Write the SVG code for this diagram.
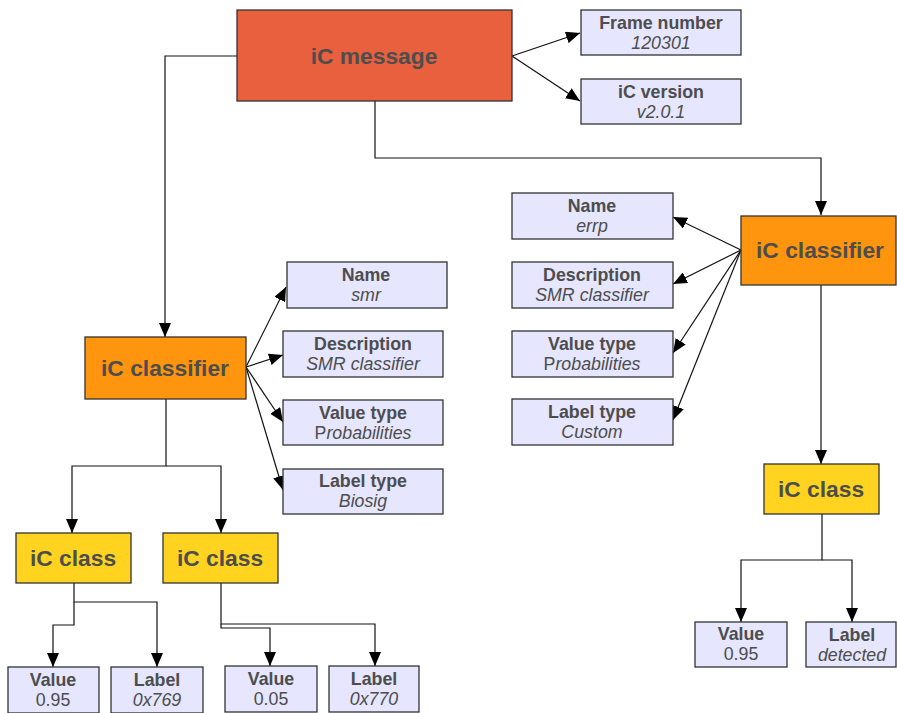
<svg xmlns="http://www.w3.org/2000/svg" width="897" height="713" viewBox="0 0 897 713">
<style>
.box{stroke:#333;stroke-width:1.3}
.msg{fill:#E9603F}
.cls{fill:#FF950E}
.cl{fill:#FFD320}
.prop{fill:#E6E6FF}
text{font-family:"Liberation Sans",Arial,sans-serif;fill:#4D4D4D;text-anchor:middle}
.big{font-size:22.8px;font-weight:bold}
.b{font-size:17.8px;font-weight:bold}
.i{font-size:17.8px;font-style:italic}
.r{font-size:17.8px}
.c{fill:none;stroke:#111;stroke-width:1.2}
</style>
<defs>
<marker id="ah" viewBox="0 0 14 12" refX="14" refY="6" markerWidth="14" markerHeight="12" markerUnits="userSpaceOnUse" orient="auto">
<path d="M0,0 L14,6 L0,12 Z" fill="#000"/>
</marker>
</defs>
<rect width="897" height="713" fill="#fff"/>
<g id="connectors">
<path class="c" d="M512,56 L580,33" marker-end="url(#ah)"/>
<path class="c" d="M512,56 L580,101" marker-end="url(#ah)"/>
<path class="c" d="M237,56 H165 V337" marker-end="url(#ah)"/>
<path class="c" d="M375,101 V158 H821 V215" marker-end="url(#ah)"/>
<path class="c" d="M741,250 L673,217" marker-end="url(#ah)"/>
<path class="c" d="M741,250 L673,284" marker-end="url(#ah)"/>
<path class="c" d="M741,250 L673,353" marker-end="url(#ah)"/>
<path class="c" d="M741,250 L673,420" marker-end="url(#ah)"/>
<path class="c" d="M246,367 L286,287" marker-end="url(#ah)"/>
<path class="c" d="M246,367 L283,355" marker-end="url(#ah)"/>
<path class="c" d="M246,367 L283,422" marker-end="url(#ah)"/>
<path class="c" d="M246,367 L283,490" marker-end="url(#ah)"/>
<path class="c" d="M166,399 V466 H72 V533" marker-end="url(#ah)"/>
<path class="c" d="M166,466 H221 V533" marker-end="url(#ah)"/>
<path class="c" d="M74,583 V602 H157 V667" marker-end="url(#ah)"/>
<path class="c" d="M74,602 V625 H53 V667" marker-end="url(#ah)"/>
<path class="c" d="M221,583 V624 H375 V666" marker-end="url(#ah)"/>
<path class="c" d="M221,624 V628 H270 V666" marker-end="url(#ah)"/>
<path class="c" d="M821,285 V464" marker-end="url(#ah)"/>
<path class="c" d="M822,514 V560 H741 V622" marker-end="url(#ah)"/>
<path class="c" d="M822,560 H852 V622" marker-end="url(#ah)"/>
</g>
<g id="ic-message">
<rect class="box msg" x="237" y="10" width="275" height="91"/>
<text class="big" x="374" y="64">iC message</text>
</g>
<g id="frame-number">
<rect class="box prop" x="581" y="10" width="160" height="45"/>
<text class="b" x="661" y="29">Frame number</text>
<text class="i" x="661" y="49">120301</text>
</g>
<g id="ic-version">
<rect class="box prop" x="581" y="79" width="160" height="45"/>
<text class="b" x="661" y="98">iC version</text>
<text class="i" x="661" y="118">v2.0.1</text>
</g>
<g id="classifier-right">
<rect class="box cls" x="741" y="216" width="155" height="69"/>
<text class="big" x="820" y="258">iC classifier</text>
</g>
<g id="r-name">
<rect class="box prop" x="512" y="193" width="161" height="46"/>
<text class="b" x="592" y="212">Name</text>
<text class="i" x="592" y="232">errp</text>
</g>
<g id="r-desc">
<rect class="box prop" x="512" y="262" width="161" height="46"/>
<text class="b" x="592" y="281">Description</text>
<text class="i" x="592" y="301">SMR classifier</text>
</g>
<g id="r-vtype">
<rect class="box prop" x="512" y="331" width="161" height="46"/>
<text class="b" x="592" y="350">Value type</text>
<text class="r" x="592" y="370">P<tspan font-style="italic">robabilities</tspan></text>
</g>
<g id="r-ltype">
<rect class="box prop" x="512" y="399" width="161" height="46"/>
<text class="b" x="592" y="418">Label type</text>
<text class="i" x="592" y="438">Custom</text>
</g>
<g id="class-right">
<rect class="box cl" x="764" y="464" width="115" height="50"/>
<text class="big" x="821" y="497">iC class</text>
</g>
<g id="r-value">
<rect class="box prop" x="695" y="622" width="92" height="45"/>
<text class="b" x="741" y="640">Value</text>
<text class="r" x="741" y="660">0.95</text>
</g>
<g id="r-label">
<rect class="box prop" x="806" y="622" width="90" height="45"/>
<text class="b" x="852" y="641">Label</text>
<text class="i" x="852" y="661">detected</text>
</g>
<g id="classifier-left">
<rect class="box cls" x="85" y="337" width="161" height="62"/>
<text class="big" x="165" y="376">iC classifier</text>
</g>
<g id="l-name">
<rect class="box prop" x="287" y="262" width="160" height="46"/>
<text class="b" x="366" y="281">Name</text>
<text class="i" x="366" y="301">smr</text>
</g>
<g id="l-desc">
<rect class="box prop" x="283" y="331" width="160" height="46"/>
<text class="b" x="363" y="350">Description</text>
<text class="i" x="363" y="370">SMR classifier</text>
</g>
<g id="l-vtype">
<rect class="box prop" x="283" y="400" width="160" height="45"/>
<text class="b" x="363" y="419">Value type</text>
<text class="r" x="363" y="439">P<tspan font-style="italic">robabilities</tspan></text>
</g>
<g id="l-ltype">
<rect class="box prop" x="283" y="469" width="160" height="45"/>
<text class="b" x="363" y="487">Label type</text>
<text class="i" x="363" y="507">Biosig</text>
</g>
<g id="class-1">
<rect class="box cl" x="16" y="533" width="115" height="50"/>
<text class="big" x="73" y="566">iC class</text>
</g>
<g id="class-2">
<rect class="box cl" x="163" y="533" width="115" height="50"/>
<text class="big" x="220" y="566">iC class</text>
</g>
<g id="value-1">
<rect class="box prop" x="8" y="667" width="91" height="46"/>
<text class="b" x="53" y="686">Value</text>
<text class="r" x="53" y="706">0.95</text>
</g>
<g id="label-1">
<rect class="box prop" x="111" y="667" width="92" height="46"/>
<text class="b" x="157" y="686">Label</text>
<text class="i" x="157" y="706">0x769</text>
</g>
<g id="value-2">
<rect class="box prop" x="225" y="666" width="92" height="46"/>
<text class="b" x="271" y="685">Value</text>
<text class="r" x="271" y="705">0.05</text>
</g>
<g id="label-2">
<rect class="box prop" x="329" y="666" width="90" height="46"/>
<text class="b" x="374" y="685">Label</text>
<text class="i" x="374" y="705">0x770</text>
</g>
</svg>
